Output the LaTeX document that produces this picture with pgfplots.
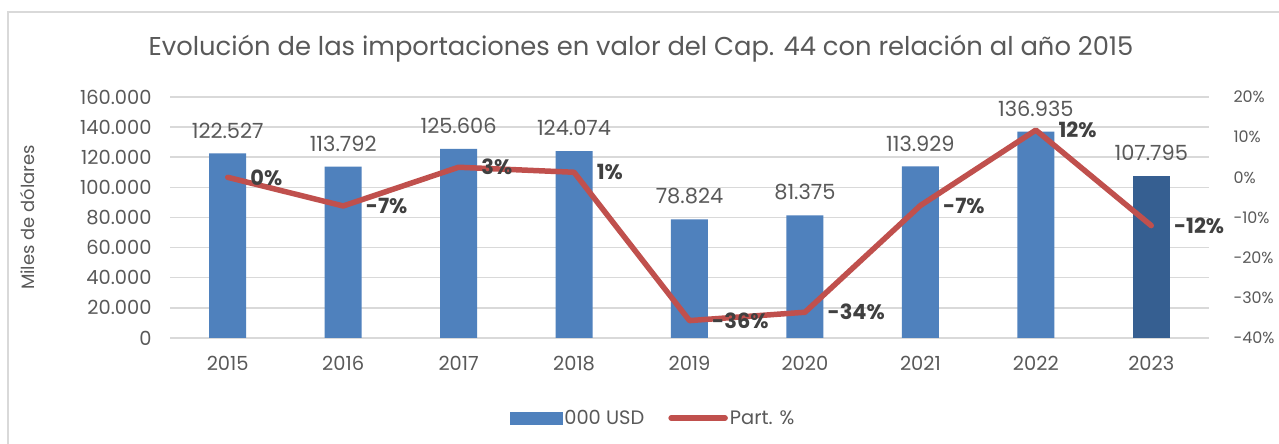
\documentclass[border=0pt]{standalone}
\usepackage{fontspec}
\setmainfont{Poppins}
\usepackage{pgfplots}
\pgfplotsset{compat=1.18}
\definecolor{barblue}{HTML}{4F81BD}
\definecolor{bardark}{HTML}{365F91}
\definecolor{linered}{HTML}{C0504D}
\definecolor{gridgray}{HTML}{D9D9D9}
\definecolor{txtgray}{HTML}{595959}
\definecolor{lblgray}{HTML}{404040}
\begin{document}
\begin{tikzpicture}
\useasboundingbox (0,0) rectangle (1279bp,444bp);
\fill[white] (0,0) rectangle (1279bp,444bp);
\draw[gridgray, line width=1.2bp] (8bp,0) -- (8bp,432bp) -- (1279bp,432bp);
\node[text=txtgray, font=\fontsize{25.9}{28}\selectfont] at (641bp,395bp) {Evolución de las importaciones en valor del Cap. 44 con relación al año 2015};

\begin{axis}[
  at={(170bp,106bp)}, anchor=south west, scale only axis,
  width=1039bp, height=241bp,
  xmin=-0.5, xmax=8.5, ymin=0, ymax=160000,
  scaled y ticks=false,
  xtick={0,...,8}, xticklabels={2015,2016,2017,2018,2019,2020,2021,2022,2023},
  ytick={0,20000,40000,60000,80000,100000,120000,140000,160000},
  yticklabels={0,20.000,40.000,60.000,80.000,100.000,120.000,140.000,160.000},
  axis line style={draw=none}, major tick length=0pt,
  ymajorgrids, grid style={gridgray, line width=1.5bp},
  ticklabel style={text=txtgray, font=\fontsize{19.5}{22}\selectfont},
  yticklabel shift=15bp,
  xticklabel shift=15bp,
  ylabel={Miles de dólares},
  ylabel style={at={(axis description cs:-0.1367,0.5)}, anchor=center, text=txtgray, font=\fontsize{18}{20}\selectfont},
  clip=false,
]
\addplot[ybar, bar width=37bp, bar shift=0pt, fill=barblue, draw=none,
  nodes near coords, point meta=explicit symbolic,
  every node near coord/.append style={anchor=center, yshift=23bp, text=txtgray, font=\fontsize{21}{24}\selectfont}]
  coordinates {(0,122527)[122.527] (1,113792)[113.792] (2,125606)[125.606] (3,124074)[124.074]
   (4,78824)[78.824] (5,81375)[81.375] (6,113929)[113.929] (7,136935)[136.935]};
\addplot[ybar, bar width=37bp, bar shift=0pt, fill=bardark, draw=none,
  nodes near coords, point meta=explicit symbolic,
  every node near coord/.append style={anchor=center, yshift=23bp, text=txtgray, font=\fontsize{21}{24}\selectfont}]
  coordinates {(8,107795)[107.795]};
\end{axis}

\begin{axis}[
  at={(170bp,106bp)}, anchor=south west, scale only axis,
  width=1039bp, height=241bp,
  xmin=-0.5, xmax=8.5, ymin=-40, ymax=20,
  hide x axis,
  ytick pos=right, yticklabel pos=right,
  axis line style={draw=none}, major tick length=0pt,
  ytick={-40,-30,-20,-10,0,10,20},
  yticklabels={-40\%,-30\%,-20\%,-10\%,0\%,10\%,20\%},
  yticklabel style={text=txtgray, font=\fontsize{16}{20}\selectfont, anchor=west, xshift=21bp},
  clip=false,
  legend columns=2,
  legend style={draw=none, fill=none, at={(0.465,-0.3320)}, anchor=center,
    font=\fontsize{19.5}{22}\selectfont, text=txtgray,
    /tikz/every even column/.append style={column sep=22bp},
    nodes={inner sep=2bp}},
  legend cell align=left,
]
\addlegendimage{legend image code/.code={\fill[barblue] (0bp,-6bp) rectangle (52bp,6bp);}}
\addplot[linered, line width=5.5bp, line join=round, line cap=round,
  legend image code/.code={\draw[linered, line width=5.5bp, line cap=round] (2bp,0bp) -- (56bp,0bp);},
  nodes near coords, point meta=explicit symbolic,
  every node near coord/.append style={anchor=west, xshift=19bp, inner sep=1bp, text=lblgray, font=\bfseries\fontsize{21}{24}\selectfont}]
  coordinates {(0,0)[0\%] (1,-7.13)[-7\%] (2,2.51)[3\%] (3,1.26)[1\%] (4,-35.67)[-36\%]
   (5,-33.59)[-34\%] (6,-7.02)[-7\%] (7,11.76)[12\%] (8,-12.02)[-12\%]};
\legend{000 USD, Part. \%}
\end{axis}
\end{tikzpicture}
\end{document}
